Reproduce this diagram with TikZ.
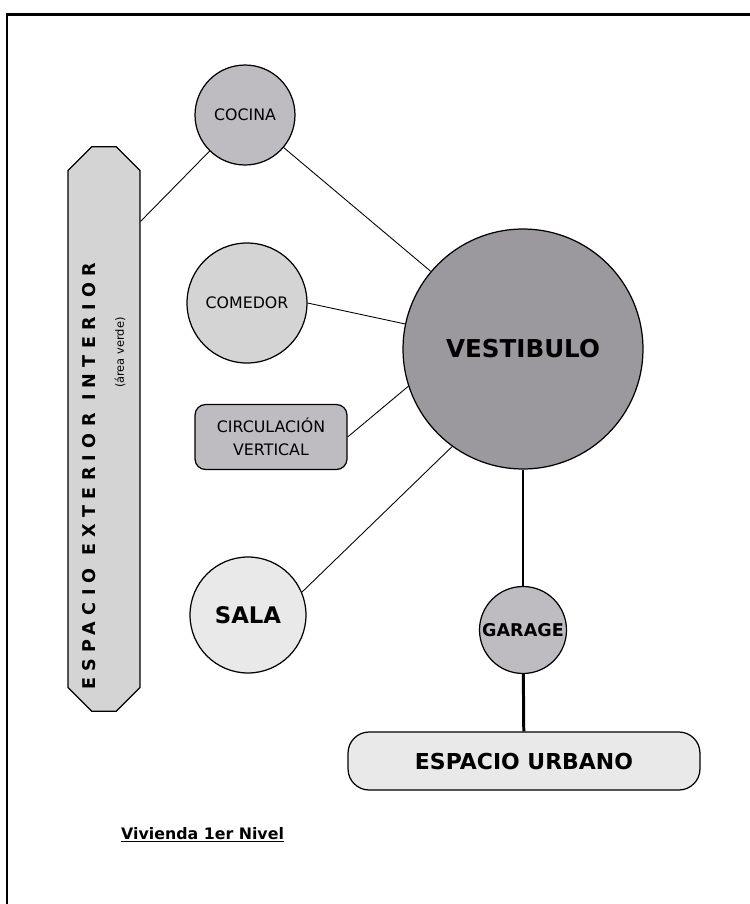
\documentclass[tikz,border=0pt]{standalone}
\usepackage{fontspec}
\setmainfont{DejaVu Sans}
\usetikzlibrary{shapes.misc}
\definecolor{grisA}{RGB}{190,188,192}
\definecolor{grisB}{RGB}{155,153,158}
\definecolor{grisC}{RGB}{212,212,212}
\definecolor{grisD}{RGB}{233,233,233}
\tikzset{
  room/.style={circle,draw,line width=0.7pt,inner sep=0pt,font=\fontsize{9}{11}\selectfont},
  bigroom/.style={room,font=\bfseries\fontsize{13}{15}\selectfont},
  link/.style={line width=0.5pt},
  mainlink/.style={line width=1.7pt}
}
\begin{document}
\begin{tikzpicture}[x=0.02cm,y=-0.02cm]
    \useasboundingbox (0,0) rectangle (750,904);
    \draw[line width=1.7pt] (7,14) rectangle (780,930);
    % espacios
    \node[draw,line width=0.7pt,fill=grisC,chamfered rectangle,chamfered rectangle xsep=1.1cm,chamfered rectangle ysep=0.05cm,
      minimum width=11.16cm,minimum height=1.44cm,inner sep=0pt,rotate=90,align=right] (exterior) at (104,429)
      {{\bfseries\fontsize{10}{12}\selectfont\addfontfeature{LetterSpace=36}ESPACIO EXTERIOR INTERIOR}\hspace*{54pt}\\[4pt]
       {\fontsize{6.5}{8}\selectfont(área verde)}\hspace*{85pt}};
    \node[room,fill=grisA,minimum size=2cm] (cocina) at (245,115) {COCINA};
    \node[room,fill=grisC,minimum size=2.4cm] (comedor) at (247,303) {COMEDOR};
    \node[draw,line width=0.7pt,rounded corners=6pt,fill=grisA,minimum width=3.04cm,minimum height=1.3cm,
      align=center,font=\fontsize{9}{13}\selectfont] (circ) at (271,437) {CIRCULACIÓN\\VERTICAL};
    \node[bigroom,fill=grisD,minimum size=2.32cm] (sala) at (248,615) {SALA};
    \node[bigroom,fill=grisB,minimum size=4.8cm,font=\bfseries\fontsize{14}{16}\selectfont] (vest) at (523,349) {VESTIBULO};
    \node[bigroom,fill=grisA,minimum size=1.74cm,font=\bfseries\fontsize{10}{12}\selectfont] (garage) at (523,630) {GARAGE};
    \node[draw,line width=0.7pt,rounded corners=12pt,fill=grisD,minimum width=7.04cm,minimum height=1.16cm,
      font=\bfseries\fontsize{12.5}{15}\selectfont] (urbano) at (524,761) {ESPACIO URBANO};
    % conexiones
    \draw[link] (exterior.-10) -- (cocina);
    \draw[link] (cocina) -- (vest);
    \draw[link] (comedor.0) -- (vest.168);
    \draw[link] (circ.east) -- (vest.198);
    \draw[link] (sala.23) -- (vest.234);
    \draw[mainlink] (vest) -- (garage);
    \draw[mainlink] (garage) -- (urbano);
    \node[anchor=west,font=\bfseries\fontsize{9}{12}\selectfont] (titulo) at (115,835) {\underline{Vivienda 1er Nivel}};
\end{tikzpicture}
\end{document}
